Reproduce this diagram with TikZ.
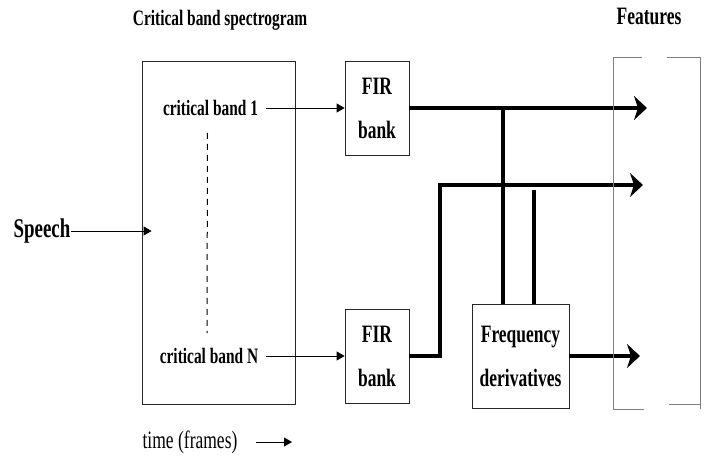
\documentclass[tikz,border=0pt]{standalone}
\usepackage{fontspec}
\usetikzlibrary{arrows.meta,positioning}
\newfontfamily\narrowserif{Liberation Serif}[FakeStretch=0.7]

\tikzset{
	lbl/.style={font=\narrowserif\bfseries\fontsize{25}{30}\selectfont, inner sep=0pt},
	small lbl/.style={font=\narrowserif\bfseries\fontsize{22}{26}\selectfont, inner sep=0pt},
	box/.style={draw=black!85, line width=0.8pt, align=center, inner sep=0pt},
	thin arrow/.style={line width=0.9pt, -{Triangle[length=8pt,width=9pt]}},
	bus/.style={line width=4.5pt},
	bus arrow/.style={bus, -{Stealth[length=13pt,width=24pt,inset=4pt]}},
	bracket/.style={draw=black!50, line width=1pt}
}

\begin{document}
\begin{tikzpicture}[x=1pt, y=-1pt, node distance=248pt]
			\useasboundingbox (0,0) rectangle (716,458);

			\node[small lbl] (title) at (220,20) {Critical band spectrogram};
			\node[box, minimum width=153pt, minimum height=343pt] (spec) at (218.5,232.5) {};
			\node[small lbl] (band1) at (210.5,108) {critical band 1};
			\node[small lbl] (bandN)[below of = band1, xshift=-1.5pt] {critical band N};
			\node[lbl, font=\narrowserif\bfseries\fontsize{27}{32}\selectfont] (speech) at (42,231) {Speech};
			\node[inner sep=0pt, font=\narrowserif\fontsize{25}{30}\selectfont] (time) at (190,442) {time (frames)};

			\node[box, lbl, minimum width=64pt, minimum height=94pt] (fir1) at (377,108) {FIR\\[14pt]bank};
			\node[box, lbl, minimum width=64pt, minimum height=94pt] (fir2)[below of = fir1] {FIR\\[14pt]bank};
			\node[box, lbl, minimum width=97pt, minimum height=104pt] (freq) at (520.5,356) {Frequency\\[14pt]derivatives};
			\node[lbl] (features) at (649,16) {Features};

			\coordinate (out1) at (647,108);
			\coordinate (out2) at (643,185);
			\coordinate (out3) at (640,356);
			\coordinate (rise) at (440,185);
			\coordinate (tap1) at (503,108);
			\coordinate (tap2) at (534,190);
			\coordinate (timeend) at (292,442);

			\draw[thin arrow] (speech.east) -- ([xshift=10pt]spec.west |- speech.east);
			\draw[thin arrow] ([xshift=8pt]band1.east) -- (band1.east -| fir1.west);
			\draw[thin arrow] ([xshift=8pt]bandN.east) -- (bandN.east -| fir2.west);
			\draw[thin arrow] ([xshift=18pt]time.east) -- (timeend);
			\draw[dash pattern=on 6pt off 5pt, line width=1pt]
				([xshift=-3pt, yshift=-17pt]band1.south) -- ([xshift=-2pt, yshift=15pt]bandN.north);

			\draw[bus arrow] (fir1.east) -- (out1);
			\draw[bus arrow] (fir2.east) -| (rise) -- (out2);
			\draw[bus arrow] (freq.east) -- (out3);
			\draw[bus] (tap1) -- (tap1 |- freq.north);
			\draw[bus] (tap2) -- (tap2 |- freq.north);

			\draw[bracket] (642,57) -- (613,57) -- (613,409) -- (644,409);
			\draw[bracket] (667,57) -- (700,57) -- (700,409);
			\draw[bracket] (669,404) -- (700,404);
		\end{tikzpicture}
\end{document}
